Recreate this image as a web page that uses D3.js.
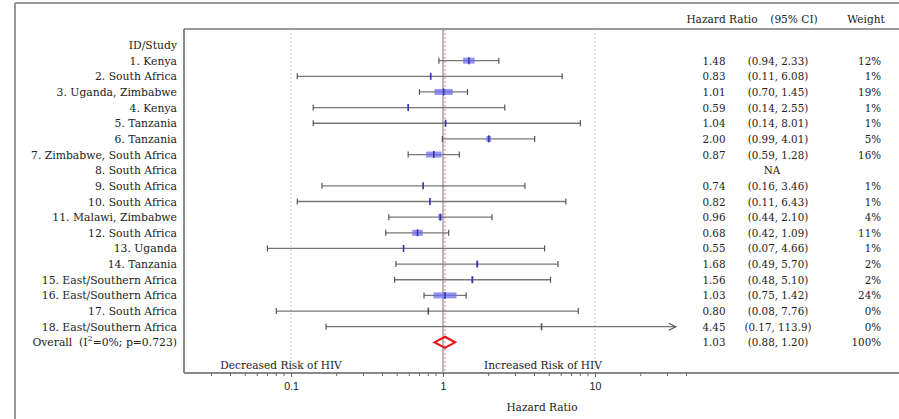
<!DOCTYPE html>
<html>
<head>
<meta charset="utf-8">
<script src="https://cdn.jsdelivr.net/npm/d3@7"></script>
<style>
  body { margin: 0; background: #fff; }
  svg { font-family: "DejaVu Serif", "Liberation Serif", serif; }
  .lbl { font-size: 10.8px; fill: #222; }
  .num { font-size: 10.3px; fill: #222; }
  .hdr { font-size: 10.6px; fill: #222; }
</style>
</head>
<body>
<svg id="chart" width="899" height="419"></svg>
<script>
// study data
var studies = ['1. Kenya', '2. South Africa', '3. Uganda, Zimbabwe', '4. Kenya', '5. Tanzania',
    '6. Tanzania', '7. Zimbabwe, South Africa', '8. South Africa', '9. South Africa', '10. South Africa',
    '11. Malawi, Zimbabwe', '12. South Africa', '13. Uganda', '14. Tanzania', '15. East/Southern Africa',
    '16. East/Southern Africa', '17. South Africa', '18. East/Southern Africa'];
var hr     = [1.48, 0.83, 1.01, 0.59, 1.04, 2.00, 0.87, null, 0.74, 0.82, 0.96, 0.68, 0.55, 1.68, 1.56, 1.03, 0.80, 4.45];
var lower  = [0.94, 0.11, 0.70, 0.14, 0.14, 0.99, 0.59, null, 0.16, 0.11, 0.44, 0.42, 0.07, 0.49, 0.48, 0.75, 0.08, 0.17];
var upper  = [2.33, 6.08, 1.45, 2.55, 8.01, 4.01, 1.28, null, 3.46, 6.43, 2.10, 1.09, 4.66, 5.70, 5.10, 1.42, 7.76, 113.9];
var weight = [12, 1, 19, 1, 1, 5, 16, null, 1, 1, 4, 11, 1, 2, 2, 24, 0, 0];

var overall = {hr: 1.03, lower: 0.88, upper: 1.20, weight: 100, i2: '0%', p: '0.723'};

var majorTicks = [0.1, 1, 10];
var minorTicks = [0.03, 0.04, 0.05, 0.06, 0.07, 0.08, 0.09,
    0.2, 0.3, 0.4, 0.5, 0.6, 0.7, 0.8, 0.9,
    2, 3, 4, 5, 6, 7, 8, 9, 20, 30, 40];
var plotMax = 34; // CIs beyond this get an arrow

var svg = d3.select('#chart');
var fmt = d3.format('.2f');
function fmtCI(v) { return v >= 100 ? v.toFixed(1) : fmt(v); }

var x = d3.scaleLog().domain([0.1, 10]).range([291, 595]);
var rowY = d3.scaleLinear().domain([0, 1]).range([45, 60.65]);
var boxW = d3.scaleLinear().domain([0, 24]).range([0, 23]);

var plotLeft = 184, plotTop = 29, axisY = 373;

// frame
svg.append('line').attr('x1', 15).attr('x2', 899).attr('y1', 3).attr('y2', 3)
    .attr('stroke', '#999').attr('stroke-width', 2);
svg.append('line').attr('x1', 15).attr('x2', 15).attr('y1', 3).attr('y2', 419)
    .attr('stroke', '#999').attr('stroke-width', 2);
svg.append('line').attr('x1', plotLeft).attr('x2', 899).attr('y1', plotTop).attr('y2', plotTop)
    .attr('stroke', '#999').attr('stroke-width', 2);
svg.append('line').attr('x1', plotLeft).attr('x2', plotLeft).attr('y1', plotTop).attr('y2', axisY)
    .attr('stroke', '#666').attr('stroke-width', 1.5);

// reference lines
[0.1, 10].forEach(function(v) {
    svg.append('line').attr('x1', x(v)).attr('x2', x(v)).attr('y1', plotTop).attr('y2', axisY)
        .attr('stroke', '#bbb').attr('stroke-dasharray', '1.5,2.5');
});
svg.append('line').attr('x1', x(1)).attr('x2', x(1)).attr('y1', plotTop).attr('y2', axisY)
    .attr('stroke', '#888').attr('stroke-width', 1.2);
svg.append('line').attr('x1', x(overall.hr)).attr('x2', x(overall.hr)).attr('y1', plotTop).attr('y2', axisY)
    .attr('stroke', '#f08080').attr('stroke-dasharray', '2,2');

// axis
svg.append('line').attr('x1', plotLeft).attr('x2', 899).attr('y1', axisY).attr('y2', axisY)
    .attr('stroke', '#888').attr('stroke-width', 2);

var xAxis = d3.axisBottom(x).tickValues(majorTicks).tickSize(4).tickPadding(5)
    .tickFormat(function(d) { return d < 1 ? String(d) : d3.format('d')(d); });
var gX = svg.append('g').attr('transform', 'translate(0,' + axisY + ')').call(xAxis);
gX.select('.domain').remove();
gX.selectAll('.tick line').attr('stroke', '#666');
gX.selectAll('.tick text').attr('class', 'hdr').style('font-family', null).attr('font-size', null)
    .attr('fill', null);

svg.append('g').selectAll('line').data(minorTicks).join('line')
    .attr('x1', d => x(d)).attr('x2', d => x(d))
    .attr('y1', axisY).attr('y2', axisY + 3)
    .attr('stroke', '#666');

svg.append('text').attr('class', 'hdr').attr('x', 542).attr('y', 411)
    .attr('text-anchor', 'middle').text('Hazard Ratio');
svg.append('text').attr('class', 'hdr').attr('x', 281).attr('y', 369)
    .attr('text-anchor', 'middle').text('Decreased Risk of HIV');
svg.append('text').attr('class', 'hdr').attr('x', 543).attr('y', 369)
    .attr('text-anchor', 'middle').text('Increased Risk of HIV');

// headers
svg.append('text').attr('class', 'hdr').attr('x', 722).attr('y', 23)
    .attr('text-anchor', 'middle').text('Hazard Ratio');
svg.append('text').attr('class', 'hdr').attr('x', 794).attr('y', 23)
    .attr('text-anchor', 'middle').text('(95% CI)');
svg.append('text').attr('class', 'hdr').attr('x', 866).attr('y', 23)
    .attr('text-anchor', 'middle').text('Weight');

svg.append('text').attr('class', 'lbl').attr('x', 177).attr('y', rowY(0) + 4)
    .attr('text-anchor', 'end').text('ID/Study');

// study rows
var rows = studies.map(function(s, i) {
    return {name: s, hr: hr[i], lo: lower[i], hi: upper[i], w: weight[i], row: i + 1};
});

var g = svg.append('g');
rows.forEach(function(d) {
    var y = rowY(d.row);
    g.append('text').attr('class', 'lbl').attr('x', 177).attr('y', y + 4)
        .attr('text-anchor', 'end').text(d.name);

    if (d.hr === null) {
        g.append('text').attr('class', 'num').attr('x', 772).attr('y', y + 4)
            .attr('text-anchor', 'middle').text('NA');
        return;
    }

    var x1 = x(d.lo), x2 = x(Math.min(d.hi, plotMax));
    g.append('line').attr('x1', x1).attr('x2', x2).attr('y1', y).attr('y2', y)
        .attr('stroke', '#777').attr('stroke-width', 1.3);
    g.append('line').attr('x1', x1).attr('x2', x1).attr('y1', y - 3).attr('y2', y + 3)
        .attr('stroke', '#555').attr('stroke-width', 1.2);
    if (d.hi > plotMax) {
        g.append('path')
            .attr('d', 'M' + (x2 - 7) + ',' + (y - 3.5) + 'L' + x2 + ',' + y + 'L' + (x2 - 7) + ',' + (y + 3.5))
            .attr('fill', 'none').attr('stroke', '#555').attr('stroke-width', 1.2);
    } else {
        g.append('line').attr('x1', x2).attr('x2', x2).attr('y1', y - 3).attr('y2', y + 3)
            .attr('stroke', '#555').attr('stroke-width', 1.2);
    }

    var bw = boxW(d.w);
    if (bw > 0) {
        g.append('rect').attr('x', x(d.hr) - bw / 2).attr('y', y - 3).attr('width', bw).attr('height', 6)
            .attr('fill', '#6f6ff0').attr('opacity', 0.75);
    }
    g.append('line').attr('x1', x(d.hr)).attr('x2', x(d.hr)).attr('y1', y - 3.5).attr('y2', y + 3.5)
        .attr('stroke', d.w > 0 ? '#3535a8' : '#555').attr('stroke-width', 1.6);

    g.append('text').attr('class', 'num').attr('x', 714).attr('y', y + 4)
        .attr('text-anchor', 'middle').text(fmt(d.hr));
    g.append('text').attr('class', 'num').attr('x', 778).attr('y', y + 4)
        .attr('text-anchor', 'middle').text('(' + fmtCI(d.lo) + ', ' + fmtCI(d.hi) + ')');
    g.append('text').attr('class', 'num').attr('x', 881).attr('y', y + 4)
        .attr('text-anchor', 'end').text(d.w + '%');
});

// overall
var oy = rowY(studies.length + 1);
var ol = svg.append('text').attr('class', 'lbl').attr('x', 177).attr('y', oy + 4).attr('text-anchor', 'end')
    .attr('xml:space', 'preserve');
ol.append('tspan').text('Overall  (I');
ol.append('tspan').attr('dy', -5).attr('font-size', '8px').text('2');
ol.append('tspan').attr('dy', 5).text('=' + overall.i2 + '; p=' + overall.p + ')');

svg.append('path')
    .attr('d', 'M' + x(overall.lower) + ',' + oy + 'L' + x(overall.hr) + ',' + (oy - 5.5) +
        'L' + x(overall.upper) + ',' + oy + 'L' + x(overall.hr) + ',' + (oy + 5.5) + 'Z')
    .attr('fill', 'none').attr('stroke', '#e8141a').attr('stroke-width', 2.2);

svg.append('text').attr('class', 'num').attr('x', 714).attr('y', oy + 4)
    .attr('text-anchor', 'middle').text(fmt(overall.hr));
svg.append('text').attr('class', 'num').attr('x', 778).attr('y', oy + 4)
    .attr('text-anchor', 'middle').text('(' + fmtCI(overall.lower) + ', ' + fmtCI(overall.upper) + ')');
svg.append('text').attr('class', 'num').attr('x', 881).attr('y', oy + 4)
    .attr('text-anchor', 'end').text(overall.weight + '%');
</script>
</body>
</html>
